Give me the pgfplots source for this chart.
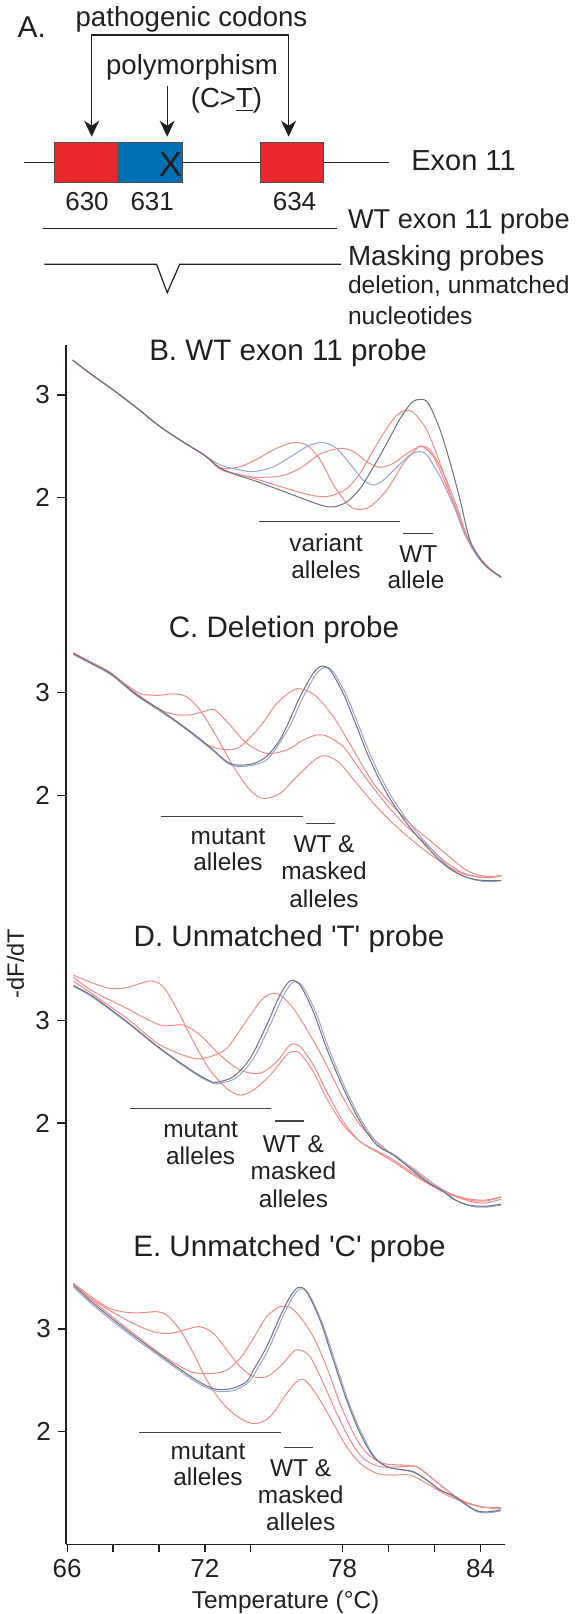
\documentclass[border=0pt]{standalone}
\usepackage{fontspec}
\setmainfont{Liberation Sans}
\usepackage{pgfplots}
\pgfplotsset{compat=1.18}
\usetikzlibrary{arrows.meta}
\definecolor{cgray}{RGB}{112,112,126}
\definecolor{cblue}{RGB}{150,165,210}
\definecolor{cred}{RGB}{242,138,138}
\definecolor{boxred}{RGB}{232,40,46}
\definecolor{boxblue}{RGB}{0,112,180}
\definecolor{ink}{RGB}{35,31,32}
\newcommand{\fs}[1]{\fontsize{#1}{#1}\selectfont}
\pgfplotsset{
 panel/.style={scale only axis, width=219.65pt, xmin=65.95, xmax=85.08, anchor=south west, clip=false,
   axis y line*=left, tick align=outside, major tick length=4.5pt,
   ytick={2,3}, tick label style={font=\fs{13}, text=ink}, /pgf/number format/assume math mode=true,
   axis line style={line width=0.6pt, ink}, major tick style={line width=0.6pt, ink}, minor tick style={line width=0.6pt, ink}},
 cur/.style={smooth, tension=0.5, line width=0.5pt, mark=none},
 wt/.style={cur, cgray}, bl/.style={cur, cblue}, rd/.style={cur, cred},
}
\begin{document}
\begin{tikzpicture}
\useasboundingbox (0,0) rectangle (287.5pt,-807pt);
% ---------------- Panel B
\begin{axis}[panel, at={(33pt,-305pt)}, height=132.5pt, ymin=0.9065, ymax=3.4869, hide x axis]
\addplot[rd] coordinates {(66.24,3.34) (67,3.21) (68,3.05) (69,2.88) (70,2.70) (71,2.55) (72,2.41) (72.66,2.28) (73.4,2.23) (74.11,2.19) (75.56,2.09) (76.73,2.02) (77.45,2.017) (78.18,2.09) (78.76,2.24) (79.34,2.465) (79.92,2.676) (80.36,2.806) (80.72,2.848) (81.08,2.83) (81.66,2.66) (82.24,2.335) (82.82,1.945) (83.3,1.65) (83.8,1.45) (84.3,1.32) (84.9,1.22)};
\addplot[rd] coordinates {(66.24,3.34) (67,3.21) (68,3.05) (69,2.88) (70,2.70) (71,2.55) (72,2.41) (72.66,2.29) (73.5,2.30) (74.3,2.38) (75.1,2.48) (75.85,2.536) (76.44,2.51) (77.02,2.37) (77.6,2.124) (78.18,1.945) (78.61,1.887) (79.19,1.913) (79.92,2.075) (80.65,2.335) (81.23,2.48) (81.44,2.504) (81.95,2.40) (82.53,2.11) (82.97,1.88) (83.4,1.62) (83.9,1.43) (84.4,1.31) (84.9,1.22)};
\addplot[rd] coordinates {(66.24,3.34) (67,3.21) (68,3.05) (69,2.88) (70,2.70) (71,2.55) (72,2.41) (72.66,2.276) (73.4,2.23) (74.11,2.20) (75.27,2.21) (76.14,2.286) (77.02,2.426) (77.89,2.48) (78.47,2.45) (79.05,2.35) (79.63,2.296) (80.21,2.335) (80.79,2.43) (81.37,2.497) (81.81,2.465) (82.39,2.237) (82.97,1.913) (83.4,1.64) (83.9,1.44) (84.4,1.31) (84.9,1.22)};
\addplot[bl] coordinates {(66.24,3.34) (67,3.21) (68,3.05) (69,2.88) (70,2.70) (71,2.55) (72,2.41) (72.66,2.32) (73.53,2.27) (74.11,2.254) (74.98,2.30) (75.85,2.416) (76.58,2.513) (77.16,2.536) (77.74,2.48) (78.47,2.286) (78.9,2.17) (79.34,2.124) (79.77,2.17) (80.36,2.30) (80.94,2.416) (81.3,2.449) (81.66,2.416) (82.24,2.205) (82.82,1.929) (83.3,1.66) (83.8,1.45) (84.3,1.32) (84.9,1.23)};
\addplot[wt] coordinates {(66.24,3.34) (67,3.21) (68,3.05) (69,2.88) (70,2.70) (71,2.55) (72,2.41) (72.66,2.29) (73.4,2.22) (74.11,2.17) (75.56,2.05) (77.02,1.93) (77.6,1.91) (78.18,1.96) (78.76,2.09) (79.34,2.30) (79.92,2.53) (80.5,2.77) (81.0,2.925) (81.37,2.958) (81.73,2.92) (82.24,2.66) (82.68,2.34) (83.11,1.98) (83.55,1.58) (84.1,1.37) (84.5,1.29) (84.9,1.23)};
\end{axis}
% ---------------- Panel C
\begin{axis}[panel, at={(33pt,-460pt)}, height=155pt, ymin=0.7868, ymax=3.8053, hide x axis]
\addplot[rd] coordinates {(66.27,3.39) (67.2,3.28) (67.87,3.20) (68.5,3.09) (69.2,2.99) (70.0,2.975) (70.63,2.99) (71.21,2.96) (71.79,2.83) (72.51,2.572) (73.24,2.28) (73.96,2.053) (74.54,1.971) (75.27,2.02) (76.14,2.215) (76.87,2.361) (77.3,2.384) (77.88,2.312) (78.61,2.117) (79.48,1.89) (80.35,1.695) (81.37,1.50) (82.38,1.338) (83.2,1.24) (83.8,1.21) (84.4,1.2) (84.9,1.22)};
\addplot[rd] coordinates {(66.27,3.39) (67.2,3.27) (67.87,3.19) (69.03,2.99) (69.6,2.90) (70.2,2.82) (70.8,2.785) (71.4,2.785) (72.0,2.82) (72.4,2.835) (72.95,2.72) (73.82,2.507) (74.69,2.41) (75.56,2.442) (76.29,2.54) (76.87,2.588) (77.3,2.578) (78.03,2.474) (78.76,2.247) (79.63,1.988) (80.5,1.76) (81.51,1.55) (82.38,1.37) (83.2,1.25) (83.8,1.21) (84.4,1.2) (84.9,1.22)};
\addplot[rd] coordinates {(66.27,3.38) (67.87,3.19) (69.03,2.98) (70.0,2.84) (70.77,2.72) (71.5,2.59) (72.22,2.48) (72.95,2.445) (73.53,2.474) (74.4,2.67) (75.13,2.896) (75.85,3.026) (76.29,3.033) (76.87,2.96) (77.59,2.767) (78.47,2.442) (79.34,2.117) (80.21,1.89) (81.08,1.695) (81.95,1.533) (82.82,1.37) (83.4,1.27) (84.0,1.22) (84.5,1.21) (84.9,1.22)};
\addplot[bl] coordinates {(66.27,3.37) (67.87,3.18) (69.03,2.97) (70.77,2.71) (72.22,2.46) (72.95,2.32) (73.4,2.28) (74.2,2.30) (74.8,2.37) (75.66,2.66) (76.26,2.95) (76.84,3.18) (77.21,3.245) (77.57,3.21) (78.15,2.98) (78.73,2.66) (79.31,2.34) (80.04,2.02) (80.91,1.73) (81.78,1.50) (82.65,1.30) (83.3,1.21) (83.9,1.17) (84.4,1.16) (84.9,1.17)};
\addplot[wt] coordinates {(66.27,3.38) (67.2,3.27) (67.87,3.19) (69.03,2.98) (70.0,2.84) (70.77,2.72) (71.5,2.60) (72.22,2.47) (72.95,2.33) (73.4,2.295) (74.11,2.31) (74.69,2.38) (75.2,2.52) (75.56,2.67) (76.14,2.96) (76.72,3.19) (77.09,3.26) (77.45,3.22) (78.03,2.99) (78.61,2.67) (79.19,2.345) (79.92,2.02) (80.79,1.728) (81.66,1.50) (82.53,1.306) (83.2,1.22) (83.8,1.18) (84.4,1.17) (84.9,1.17)};
\end{axis}
% ---------------- Panel D
\begin{axis}[panel, at={(33pt,-615pt)}, height=155pt, ymin=0.9581, ymax=3.9766, hide x axis,
  ylabel={-dF/dT}, ylabel style={at={(axis description cs:-0.115,0.86)}, anchor=center, font=\fs{11.8}, text=ink}]
\addplot[rd] coordinates {(66.27,3.44) (67.14,3.36) (67.87,3.31) (68.59,3.318) (69.2,3.36) (69.61,3.383) (70.0,3.36) (70.34,3.28) (70.92,3.05) (71.5,2.792) (72.22,2.516) (72.95,2.337) (73.53,2.272) (74.11,2.32) (74.84,2.467) (75.56,2.662) (75.85,2.695) (76.14,2.678) (76.72,2.50) (77.3,2.24) (78.03,1.98) (78.76,1.818) (79.48,1.72) (80.21,1.623) (81.08,1.493) (81.95,1.38) (82.7,1.30) (83.5,1.25) (84.2,1.24) (84.9,1.28)};
\addplot[rd] coordinates {(66.27,3.42) (67.14,3.28) (68.59,3.117) (70.05,2.954) (71.06,2.954) (71.79,2.857) (72.66,2.662) (73.53,2.516) (74.4,2.484) (75.13,2.597) (75.71,2.76) (76.14,2.743) (76.72,2.565) (77.3,2.305) (78.03,2.013) (78.76,1.818) (79.48,1.73) (80.21,1.64) (81.08,1.51) (81.95,1.39) (82.7,1.31) (83.5,1.26) (84.2,1.25) (84.9,1.28)};
\addplot[rd] coordinates {(66.27,3.38) (67.14,3.25) (68.59,3.02) (70.05,2.76) (71.5,2.63) (72.22,2.646) (72.95,2.727) (73.68,2.954) (74.4,3.181) (74.84,3.256) (75.27,3.246) (75.85,3.116) (76.58,2.857) (77.3,2.565) (78.03,2.24) (78.76,1.98) (79.48,1.818) (80.21,1.688) (81.08,1.558) (81.95,1.41) (82.7,1.31) (83.5,1.24) (84.2,1.22) (84.9,1.26)};
\addplot[bl] coordinates {(66.27,3.33) (67.14,3.22) (68.59,2.98) (70.05,2.72) (71.5,2.49) (72.3,2.39) (72.65,2.385) (73.36,2.44) (74.09,2.62) (74.81,2.94) (75.39,3.23) (75.83,3.37) (76.26,3.33) (76.84,3.07) (77.42,2.71) (78.15,2.32) (78.88,2.00) (79.6,1.78) (80.33,1.68) (81.05,1.55) (81.78,1.42) (82.5,1.32) (83.0,1.24) (83.6,1.19) (84.2,1.18) (84.9,1.20)};
\addplot[wt] coordinates {(66.27,3.34) (67.14,3.23) (68.59,2.99) (70.05,2.727) (71.5,2.50) (72.22,2.41) (72.51,2.396) (73.24,2.451) (73.97,2.63) (74.69,2.954) (75.27,3.246) (75.71,3.383) (76.14,3.344) (76.72,3.084) (77.3,2.727) (78.03,2.337) (78.76,2.013) (79.48,1.786) (80.21,1.688) (80.93,1.558) (81.66,1.428) (82.38,1.331) (82.9,1.25) (83.5,1.20) (84.2,1.19) (84.9,1.21)};
\end{axis}
% ---------------- Panel E
\begin{axis}[panel, at={(33pt,-772.15pt)}, height=157.15pt, ymin=0.9036, ymax=3.964,
  axis x line*=bottom, major tick length=4pt, minor tick length=4pt,
  xtick={66,72,78,84}, minor xtick={68,70,74,80,82},
  xlabel={Temperature (°C)}, xlabel style={at={(axis description cs:0.5,0)}, anchor=center, yshift=-28.7pt, font=\fs{12.2}, text=ink}]
\addplot[rd] coordinates {(66.27,3.445) (67.14,3.30) (67.87,3.20) (68.59,3.162) (69.32,3.159) (69.9,3.169) (70.34,3.136) (70.92,2.99) (71.5,2.763) (72.08,2.503) (72.66,2.308) (73.24,2.178) (73.82,2.097) (74.26,2.081) (74.84,2.146) (75.56,2.373) (76.07,2.503) (76.43,2.487) (77.01,2.308) (77.59,2.081) (78.17,1.854) (78.76,1.692) (79.48,1.594) (80.21,1.578) (80.93,1.578) (81.66,1.497) (82.38,1.40) (83.2,1.32) (84.0,1.27) (84.9,1.25)};
\addplot[rd] coordinates {(66.27,3.44) (67.14,3.282) (68.59,3.087) (69.75,2.974) (70.48,2.958) (71.21,2.997) (71.79,3.023) (72.37,2.958) (72.95,2.796) (73.53,2.633) (74.11,2.536) (74.69,2.536) (75.27,2.633) (75.85,2.779) (76.14,2.796) (76.58,2.73) (77.16,2.471) (77.74,2.178) (78.32,1.919) (78.9,1.74) (79.63,1.659) (80.5,1.659) (81.22,1.659) (81.8,1.562) (82.53,1.432) (83.2,1.33) (84.0,1.27) (84.9,1.25)};
\addplot[rd] coordinates {(66.27,3.44) (67.14,3.27) (68.59,3.01) (70.05,2.76) (71.21,2.60) (71.79,2.568) (72.37,2.568) (72.95,2.60) (73.53,2.714) (74.11,2.909) (74.69,3.12) (75.27,3.217) (75.71,3.211) (76.14,3.12) (76.72,2.925) (77.3,2.633) (77.88,2.276) (78.47,1.984) (79.05,1.79) (79.77,1.692) (80.64,1.675) (81.22,1.659) (81.8,1.562) (82.53,1.432) (83.2,1.33) (84.0,1.27) (84.9,1.26)};
\addplot[bl] coordinates {(66.27,3.41) (67.14,3.23) (68.59,2.97) (70.05,2.73) (71.5,2.50) (72.22,2.415) (72.7,2.39) (73.3,2.405) (73.9,2.48) (74.2,2.58) (74.78,2.81) (75.35,3.10) (75.79,3.30) (76.13,3.39) (76.5,3.35) (77.08,3.075) (77.66,2.69) (78.24,2.30) (78.83,1.98) (79.41,1.75) (79.99,1.655) (80.57,1.63) (81.15,1.60) (81.73,1.52) (82.31,1.425) (82.9,1.36) (83.76,1.23) (84.3,1.21) (84.88,1.23)};
\addplot[wt] coordinates {(66.27,3.43) (67.14,3.25) (68.59,2.99) (70.05,2.747) (71.5,2.52) (72.22,2.432) (72.66,2.41) (73.24,2.425) (73.82,2.49) (74.11,2.60) (74.69,2.828) (75.27,3.12) (75.71,3.315) (76.07,3.406) (76.43,3.363) (77.01,3.087) (77.59,2.698) (78.17,2.308) (78.76,1.984) (79.34,1.757) (79.92,1.659) (80.5,1.633) (81.08,1.61) (81.66,1.529) (82.24,1.432) (82.82,1.375) (83.76,1.238) (84.3,1.22) (84.88,1.238)};
\end{axis}
% ---------------- annotations (pixel coordinates)
\begin{scope}[x=0.5pt, y=-0.5pt, every node/.style={inner sep=0pt, text=ink}]
 % panel A
 \node[anchor=base] at (31.7,37.3) {\fs{15}A.};
 \node[anchor=base] at (191.5,26.7) {\fs{13.8}pathogenic codons};
 \node[anchor=base] at (192,74) {\fs{13.8}polymorphism};
 \node[anchor=base] at (226.5,107.5) {\fs{13.8}(C>\underline{T})};
 \draw[ink, line width=0.6pt, {Stealth[length=8pt,width=7.5pt,inset=2.5pt]}-{Stealth[length=8pt,width=7.5pt,inset=2.5pt]}] (91.7,136.7) -- (91.7,35) -- (288.6,35) -- (288.6,136.7);
 \draw[ink, line width=0.6pt, -{Stealth[length=8pt,width=7.5pt,inset=2.5pt]}] (167.2,86) -- (167.2,136.7);
 \draw[ink, line width=0.6pt] (23.8,162.7) -- (389.4,162.7);
 \draw[ink!80, line width=0.5pt, fill=boxred] (54.3,142.7) rectangle (118.4,182.7);
 \draw[ink!80, line width=0.5pt, fill=boxblue] (118.4,142.7) rectangle (182.3,182.7);
 \draw[ink!80, line width=0.5pt, fill=boxred] (260,142.7) rectangle (323.4,182.7);
 \node[anchor=base] at (170.5,176.7) {\fs{17.5}X};
 \node[anchor=base] at (463.5,170.7) {\fs{14.5}Exon 11};
 \node[anchor=base] at (87,210) {\fs{13}630};
 \node[anchor=base] at (152.2,210) {\fs{13}631};
 \node[anchor=base] at (294.5,210) {\fs{13}634};
 \draw[ink, line width=0.6pt] (43.3,228.7) -- (337.4,228.7);
 \draw[ink, line width=0.6pt] (44.4,264.3) -- (156.6,264.3) -- (167.2,292.7) -- (179.7,264.3) -- (341,264.3);
 \node[anchor=base west] at (347.6,228.3) {\fs{13.6}WT exon 11 probe};
 \node[anchor=base west] at (347.6,265.7) {\fs{13.9}Masking probes};
 \node[anchor=base west] at (347.6,293.3) {\fs{12.3}deletion, unmatched};
 \node[anchor=base west] at (347.6,324) {\fs{12.3}nucleotides};
 % titles
 \node[anchor=base] at (288,360.7) {\fs{14.8}B. WT exon 11 probe};
 \node[anchor=base] at (284,637.3) {\fs{14.8}C. Deletion probe};
 \node[anchor=base] at (289,946.7) {\fs{14.8}D. Unmatched \textquotesingle T\textquotesingle{} probe};
 \node[anchor=base] at (289.5,1256) {\fs{14.8}E. Unmatched \textquotesingle C\textquotesingle{} probe};
 % panel B annotation
 \draw[ink!85, line width=0.55pt] (259.3,521.7) -- (400,521.7);
 \draw[ink!85, line width=0.55pt] (403.3,533.3) -- (432.7,533.3);
 \node[anchor=base] at (326,551.7) {\fs{12.2}variant};
 \node[anchor=base] at (326,578.3) {\fs{12.2}alleles};
 \node[anchor=base] at (418.3,562.3) {\fs{12.2}WT};
 \node[anchor=base] at (416,588.3) {\fs{12.2}allele};
 % panel C annotation
 \draw[ink!85, line width=0.55pt] (161.3,816.7) -- (302.5,816.7);
 \draw[ink!85, line width=0.55pt] (306.2,823.7) -- (334.8,823.7);
 \node[anchor=base] at (228,844) {\fs{12.2}mutant};
 \node[anchor=base] at (228,870.7) {\fs{12.2}alleles};
 \node[anchor=base] at (324,852.3) {\fs{12.2}WT \&};
 \node[anchor=base] at (324,879.3) {\fs{12.2}masked};
 \node[anchor=base] at (324,907.3) {\fs{12.2}alleles};
 % panel D annotation
 \draw[ink!85, line width=0.55pt] (130.2,1108.3) -- (271.4,1108.3);
 \draw[ink!85, line width=0.55pt] (275,1121) -- (304.4,1121);
 \node[anchor=base] at (200.6,1137.7) {\fs{12.2}mutant};
 \node[anchor=base] at (200.6,1164.3) {\fs{12.2}alleles};
 \node[anchor=base] at (293.4,1152.3) {\fs{12.2}WT \&};
 \node[anchor=base] at (293.4,1179) {\fs{12.2}masked};
 \node[anchor=base] at (293.4,1207.3) {\fs{12.2}alleles};
 % panel E annotation
 \draw[ink!85, line width=0.55pt] (139.3,1432.7) -- (280.5,1432.7);
 \draw[ink!85, line width=0.55pt] (283.5,1447.3) -- (312.8,1447.3);
 \node[anchor=base] at (208,1459) {\fs{12.2}mutant};
 \node[anchor=base] at (208,1485) {\fs{12.2}alleles};
 \node[anchor=base] at (300.7,1476.7) {\fs{12.2}WT \&};
 \node[anchor=base] at (300.7,1503.3) {\fs{12.2}masked};
 \node[anchor=base] at (300.7,1530.7) {\fs{12.2}alleles};
\end{scope}
\end{tikzpicture}
\end{document}
